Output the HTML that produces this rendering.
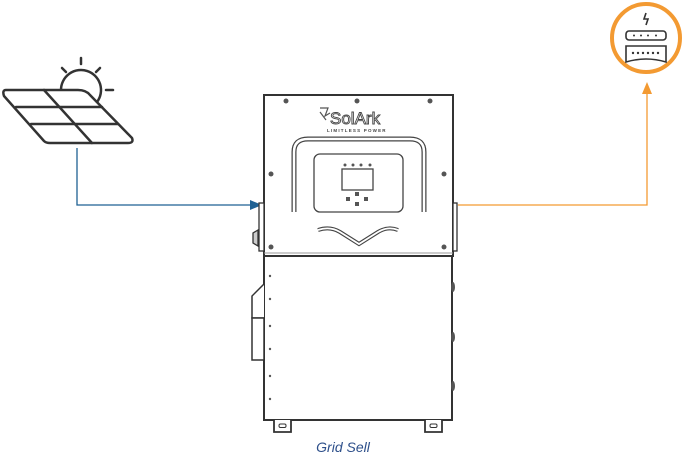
<!DOCTYPE html>
<html><head><meta charset="utf-8"><style>
html,body{margin:0;padding:0;background:#fff;width:684px;height:466px;overflow:hidden}
</style></head><body>
<svg width="684" height="466" viewBox="0 0 684 466" xmlns="http://www.w3.org/2000/svg">
<!-- connectors -->
<polyline points="77,148 77,205 252,205" fill="none" stroke="#1f6193" stroke-width="1.3"/>
<polygon points="262,205 250,200 250,210" fill="#1f6193"/>
<polyline points="458,205 647,205 647,92" fill="none" stroke="#f39a32" stroke-width="1.3"/>
<polygon points="647,82 642,94 652,94" fill="#f39a32"/>
<!-- meter -->
<circle cx="646" cy="38" r="34" fill="#fff" stroke="#f39a32" stroke-width="4"/>
<g stroke="#333" stroke-width="1.6" fill="none">
<path d="M646,13 l-2,6 h4 l-2,6"/>
<rect x="626" y="31" width="40" height="9" rx="3"/>
<path d="M626,46 h40 v16 q-20,-6 -40,0 z"/>
</g>
<g fill="#333"><circle cx="634" cy="35.5" r="1"/><circle cx="641" cy="35.5" r="1"/><circle cx="648" cy="35.5" r="1"/><circle cx="656" cy="35.5" r="1"/>
<circle cx="633" cy="53" r="1.2"/><circle cx="638" cy="53" r="1.2"/><circle cx="643" cy="53" r="1.2"/><circle cx="648" cy="53" r="1.2"/><circle cx="653" cy="53" r="1.2"/><circle cx="658" cy="53" r="1.2"/></g>
<!-- solar -->
<g stroke="#333" stroke-width="2.5" fill="none" stroke-linecap="round" stroke-linejoin="round">
<path d="M61,90 a20,20 0 1 1 36,12"/>
<line x1="81" y1="58" x2="81" y2="64"/><line x1="62" y1="68" x2="66" y2="72"/><line x1="100" y1="68" x2="96" y2="72"/><line x1="106" y1="90" x2="113" y2="90"/>
<path d="M6,90 H78 Q86,90 90,95 L132,138 Q134,143 128,143 H50 Q46,143 44,141 L4,96 Q2,90 6,90 Z" fill="#fff"/>
<line x1="44" y1="90" x2="92" y2="143"/>
<line x1="16" y1="107" x2="102" y2="107"/>
<line x1="31" y1="124" x2="118" y2="124"/>
</g>
<!-- inverter -->
<g stroke="#333" fill="#fff">
<rect x="264" y="95" width="189" height="161" stroke-width="2"/>
<rect x="264" y="256" width="188" height="164" stroke-width="2"/>
<rect x="259" y="203" width="5" height="48" stroke-width="1.3"/>
<rect x="453" y="203" width="4" height="48" stroke-width="1.3"/>
<path d="M258,230 l-5,3 v10 l5,3 z" stroke-width="1.3" fill="#ccc"/>
<path d="M264,284 l-12,12 v22 h12" stroke-width="1.5"/>
<rect x="252" y="318" width="12" height="42" stroke-width="1.5"/>
<path d="M274,420 v12 h17 v-12" stroke-width="1.8"/>
<path d="M425,420 v12 h17 v-12" stroke-width="1.8"/>
<rect x="279" y="424" width="7" height="3.5" rx="1.5" stroke-width="1"/>
<rect x="430" y="424" width="7" height="3.5" rx="1.5" stroke-width="1"/>
</g>
<line x1="264" y1="253" x2="453" y2="253" stroke="#999" stroke-width="1"/>
<g fill="#555">
<circle cx="286" cy="101" r="2.5"/><circle cx="357" cy="101" r="2.5"/><circle cx="430" cy="101" r="2.5"/>
<circle cx="271" cy="174" r="2.5"/><circle cx="444" cy="174" r="2.5"/>
<circle cx="271" cy="247" r="2.5"/><circle cx="444" cy="247" r="2.5"/>
<circle cx="270" cy="276" r="1.2"/><circle cx="270" cy="299" r="1.2"/><circle cx="270" cy="326" r="1.2"/><circle cx="270" cy="349" r="1.2"/><circle cx="270" cy="376" r="1.2"/><circle cx="270" cy="399" r="1.2"/>
<ellipse cx="453" cy="287" rx="2" ry="5"/><ellipse cx="453" cy="337" rx="2" ry="5"/><ellipse cx="453" cy="386" rx="2" ry="5"/>
</g>
<!-- handle -->
<path d="M294,212 V152 Q294,139 308,139 H410 Q424,139 424,152 V212" fill="none" stroke="#444" stroke-width="5"/>
<path d="M294,212 V152 Q294,139 308,139 H410 Q424,139 424,152 V212" fill="none" stroke="#fff" stroke-width="2.5"/>
<rect x="314" y="154" width="89" height="58" rx="6" fill="#fff" stroke="#444" stroke-width="1.3"/>
<rect x="342" y="169" width="31" height="21" fill="#fff" stroke="#444" stroke-width="1.3"/>
<g fill="#555"><circle cx="345" cy="165" r="1.5"/><circle cx="353" cy="165" r="1.5"/><circle cx="361" cy="165" r="1.5"/><circle cx="370" cy="165" r="1.5"/>
<rect x="355" y="192" width="4" height="4"/><rect x="346" y="197" width="4" height="4"/><rect x="364" y="197" width="4" height="4"/><rect x="355" y="202" width="4" height="4"/></g>
<path d="M318,230 Q330,226 340,232 L359,244 L378,232 Q388,226 398,230" fill="none" stroke="#444" stroke-width="4"/>
<path d="M318,230 Q330,226 340,232 L359,244 L378,232 Q388,226 398,230" fill="none" stroke="#fff" stroke-width="1.8"/>
<!-- logo -->
<text x="330" y="124" font-family="Liberation Sans, sans-serif" font-size="17" fill="none" stroke="#444" stroke-width="0.9">SolArk</text>
<path d="M320,108 l8,0 l-3,8 l5,-3 M320,112 l6,8" stroke="#555" stroke-width="1.2" fill="none"/>
<text x="327" y="132" font-family="Liberation Sans, sans-serif" font-size="4.5" font-weight="bold" fill="#444" letter-spacing="1.2">LIMITLESS POWER</text>
<text x="343" y="452" font-family="Liberation Sans, sans-serif" font-size="14" font-style="italic" fill="#2d4f8a" text-anchor="middle">Grid Sell</text>
</svg>
</body></html>
